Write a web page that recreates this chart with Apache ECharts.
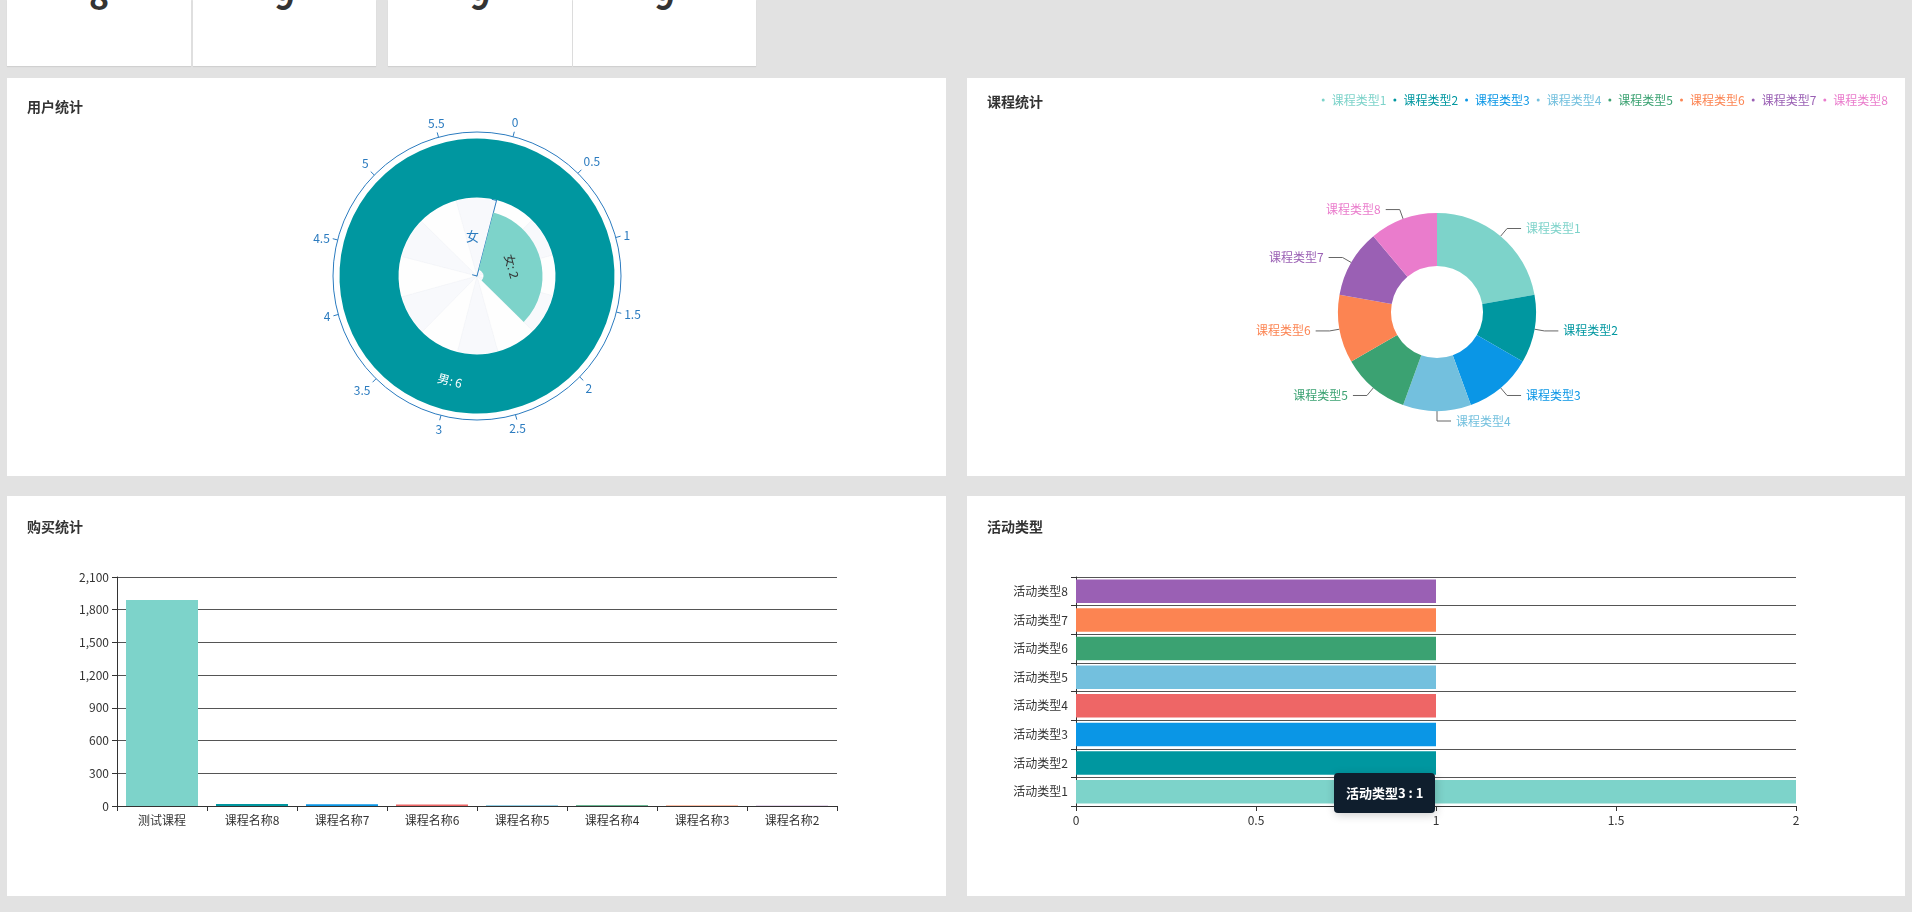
<!DOCTYPE html>
<html>
<head>
<meta charset="utf-8">
<title>统计</title>
<script src="https://cdn.jsdelivr.net/npm/echarts@6/dist/echarts.min.js"></script>
<style>
  html, body { margin: 0; padding: 0; }
  body {
    width: 1912px; height: 912px; overflow: hidden; position: relative;
    background: #e2e2e2;
    font-family: "Noto Sans CJK SC", "Noto Sans", sans-serif;
  }
  .card {
    position: absolute; top: 0; height: 66px; background: #fff; overflow: hidden;
    box-shadow: 0 1px 1px rgba(0,0,0,.08);
  }
  .card .num {
    position: absolute; left: 0; right: 0; top: -24px; text-align: center;
    font-size: 34px; line-height: 40px; font-weight: bold; color: #333;
  }
  .panel { position: absolute; background: #fff; }
  .panel .chart { width: 100%; height: 100%; }
</style>
</head>
<body>
<div class="card" style="left:7px;width:184px"><div class="num"></div></div>
<div class="card" style="left:193px;width:183px"><div class="num"></div></div>
<div class="card" style="left:388px;width:184px"><div class="num"></div></div>
<div class="card" style="left:573px;width:183px"><div class="num"></div></div>

<div class="panel" style="left:7px;top:78px;width:939px;height:398px"><div class="chart" id="user"></div></div>
<div class="panel" style="left:967px;top:78px;width:938px;height:398px"><div class="chart" id="course"></div></div>
<div class="panel" style="left:7px;top:496px;width:939px;height:400px"><div class="chart" id="buy"></div></div>
<div class="panel" style="left:967px;top:496px;width:938px;height:400px"><div class="chart" id="activity"></div></div>

<script>
// 顶部卡片
var cardValues = ['8', '9', '9', '9'];

// 用户统计
var genderNames = ['女', '男'];
var genderValues = [2, 6];
var angleMin = 0, angleMax = 6, angleStep = 0.5;

// 课程统计
var courseTypes = ['课程类型1', '课程类型2', '课程类型3', '课程类型4', '课程类型5', '课程类型6', '课程类型7', '课程类型8'];
var courseValues = [8, 4, 4, 4, 4, 4, 4, 4];

// 购买统计
var buyNames = ['测试课程', '课程名称8', '课程名称7', '课程名称6', '课程名称5', '课程名称4', '课程名称3', '课程名称2'];
var buyValues = [1890, 18, 16, 14, 6, 8, 5, 2];
var buyMin = 0, buyMax = 2100, buyStep = 300;

// 活动类型
var activityTypes = ['活动类型1', '活动类型2', '活动类型3', '活动类型4', '活动类型5', '活动类型6', '活动类型7', '活动类型8'];
var activityValues = [2, 1, 1, 1, 1, 1, 1, 1];
var actMin = 0, actMax = 2, actStep = 0.5;

// 颜色
var barColors = ['#7dd3ca', '#0097a0', '#0a96e6', '#ee6666', '#73c0de', '#3ba272', '#fc8452', '#9a60b4', '#ea7ccc'];
var pieColors = ['#7dd3ca', '#0097a0', '#0a96e6', '#73c0de', '#3ba272', '#fc8452', '#9a60b4', '#ea7ccc'];
var axisBlue = '#2b7bbf';
var font = '"Noto Sans CJK SC", "Noto Sans", sans-serif';

document.querySelectorAll('.card .num').forEach(function (el, i) {
  el.textContent = cardValues[i];
});

function titleOf(text, top) {
  return {
    text: text, left: 20, top: top, padding: 0,
    textStyle: { fontSize: 14, fontWeight: 'bold', color: '#333', fontFamily: font }
  };
}

// 用户统计 极坐标柱状图
(function () {
  var chart = echarts.init(document.getElementById('user'));
  chart.setOption({
    animation: false,
    textStyle: { fontFamily: font },
    title: titleOf('用户统计', 22),
    polar: [
      { center: [470, 198], radius: 144 },
      { center: [470, 198], radius: 78 }
    ],
    angleAxis: [{
      polarIndex: 0,
      type: 'value', min: angleMin, max: angleMax, interval: angleStep,
      startAngle: 75.5,
      axisLine: { lineStyle: { color: axisBlue } },
      axisTick: { lineStyle: { color: axisBlue } },
      axisLabel: { color: axisBlue, fontSize: 12 },
      splitLine: { show: false }
    }, {
      polarIndex: 1,
      type: 'value', min: angleMin, max: angleMax, interval: angleStep,
      startAngle: 75.5,
      axisLine: { show: false },
      axisTick: { show: false },
      axisLabel: { show: false },
      splitLine: { show: true, lineStyle: { color: 'rgba(238,239,244,0.5)' } },
      splitArea: { show: true, areaStyle: { color: ['rgba(252,252,252,0.3)', 'rgba(236,238,245,0.35)'] } }
    }],
    radiusAxis: [{
      polarIndex: 0,
      type: 'category', data: genderNames,
      show: false
    }, {
      polarIndex: 1,
      type: 'category', data: genderNames.slice(0, 1),
      axisLine: { lineStyle: { color: axisBlue } },
      axisTick: { lineStyle: { color: axisBlue } },
      axisLabel: { color: axisBlue, fontSize: 13 }
    }],
    series: [{
      type: 'bar',
      coordinateSystem: 'polar',
      polarIndex: 0,
      barCategoryGap: '18%',
      data: genderValues.map(function (v, i) {
        return {
          value: v,
          itemStyle: { color: i === 0 ? '#7dd3ca' : '#0097a0' },
          label: { color: i === 0 ? '#333' : '#fff' }
        };
      }),
      label: {
        show: true, position: 'middle', rotate: 'tangential',
        fontSize: 12, formatter: '{b}: {c}'
      }
    }]
  });
})();

// 课程统计 环形图
(function () {
  var chart = echarts.init(document.getElementById('course'));
  chart.setOption({
    animation: false,
    color: pieColors,
    textStyle: { fontFamily: font },
    title: titleOf('课程统计', 17),
    legend: {
      right: 17, top: 16, padding: 0,
      icon: 'circle', itemWidth: 7, itemHeight: 3, itemGap: 7,
      textStyle: { fontSize: 12 },
      data: courseTypes.map(function (n, i) {
        return { name: n, textStyle: { color: pieColors[i] } };
      })
    },
    series: [{
      type: 'pie',
      center: [470, 234],
      radius: [46, 99],
      startAngle: 90,
      label: { fontSize: 12 },
      labelLine: { length: 10, length2: 14, lineStyle: { color: '#666' } },
      data: courseTypes.map(function (n, i) {
        return { name: n, value: courseValues[i], label: { color: pieColors[i] } };
      })
    }]
  });
})();

// 购买统计 柱状图
(function () {
  var chart = echarts.init(document.getElementById('buy'));
  chart.setOption({
    animation: false,
    textStyle: { fontFamily: font },
    title: titleOf('购买统计', 24),
    grid: { left: 110, right: 109, top: 81, bottom: 90 },
    xAxis: {
      type: 'category', data: buyNames,
      axisLine: { lineStyle: { color: '#333' } },
      axisTick: { show: true, lineStyle: { color: '#333' } },
      axisLabel: { color: '#333', fontSize: 12 }
    },
    yAxis: {
      type: 'value', min: buyMin, max: buyMax, interval: buyStep,
      axisLine: { show: true, lineStyle: { color: '#333' } },
      axisTick: { show: true, lineStyle: { color: '#333' } },
      axisLabel: { color: '#333', fontSize: 12 },
      splitLine: { lineStyle: { color: '#555' } }
    },
    series: [{
      type: 'bar',
      barCategoryGap: '20%',
      data: buyValues,
      itemStyle: { color: function (p) { return barColors[p.dataIndex % barColors.length]; } }
    }]
  });
})();

// 活动类型 条形图
(function () {
  var chart = echarts.init(document.getElementById('activity'));
  chart.setOption({
    animation: false,
    textStyle: { fontFamily: font },
    title: titleOf('活动类型', 24),
    grid: { left: 109, right: 109, top: 81, bottom: 90 },
    tooltip: {
      trigger: 'item',
      alwaysShowContent: true,
      position: [367, 277],
      backgroundColor: '#0f1e2d',
      borderWidth: 0,
      padding: [10, 12],
      textStyle: { color: '#fff', fontWeight: 'bold', fontSize: 13, fontFamily: font },
      formatter: function (p) { return p.name + ' : ' + p.value; }
    },
    xAxis: {
      type: 'value', min: actMin, max: actMax, interval: actStep,
      axisLine: { show: true, lineStyle: { color: '#333' } },
      axisTick: { show: true, lineStyle: { color: '#333' } },
      axisLabel: { color: '#333', fontSize: 12 },
      splitLine: { show: false }
    },
    yAxis: {
      type: 'category', data: activityTypes,
      axisLine: { lineStyle: { color: '#333' } },
      axisTick: { show: true, lineStyle: { color: '#333' } },
      axisLabel: { color: '#333', fontSize: 12 },
      splitLine: { show: true, lineStyle: { color: '#555' } }
    },
    series: [{
      type: 'bar',
      barCategoryGap: '18%',
      data: activityValues,
      itemStyle: { color: function (p) { return barColors[p.dataIndex % barColors.length]; } }
    }]
  });
  chart.dispatchAction({ type: 'showTip', seriesIndex: 0, dataIndex: 2 });
})();
</script>
</body>
</html>
